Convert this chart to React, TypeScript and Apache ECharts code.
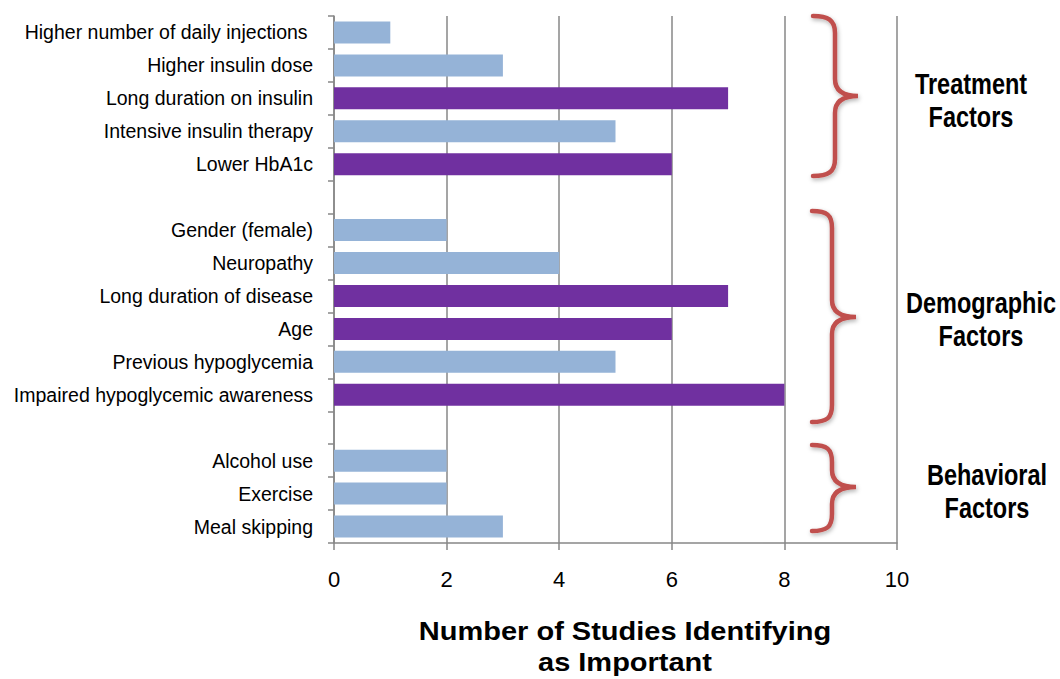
import React, { useEffect, useRef } from "react";
import * as echarts from "echarts";

const categories = [
  "Higher number of daily injections ",
  "Higher insulin dose",
  "Long duration on insulin",
  "Intensive insulin therapy",
  "Lower HbA1c",
  " ",
  "Gender (female)",
  "Neuropathy",
  "Long duration of disease",
  "Age",
  "Previous hypoglycemia",
  "Impaired hypoglycemic awareness",
  "  ",
  "Alcohol use",
  "Exercise",
  "Meal skipping",
];
const studyCounts: (number | null)[] = [1, 3, 7, 5, 6, null, 2, 4, 7, 6, 5, 8, null, 2, 2, 3];
const isKeyFactor = [false, false, true, false, true, false, false, false, true, true, false, true, false, false, false, false];
const groupLabels = ["Treatment\nFactors", "Demographic\nFactors", "Behavioral\nFactors"];
const axisTitle = "Number of Studies Identifying\nas Important";

const LIGHT = "#95B3D7";
const PURPLE = "#7030A0";
const GRID_GRAY = "#878787";
const BRACE_RED = "#C0504D";
const FONT = "'Liberation Sans', Arial, sans-serif";

function bracePath(xl: number, xv: number, xt: number, y0: number, ym: number, y1: number) {
  const r = 17;
  return (
    `M${xl} ${y0} C${xl + 15} ${y0} ${xv} ${y0 + 4} ${xv} ${y0 + r} ` +
    `L${xv} ${ym - r} C${xv} ${ym - 5} ${xv + 9} ${ym} ${xt} ${ym} ` +
    `C${xv + 9} ${ym} ${xv} ${ym + 5} ${xv} ${ym + r} ` +
    `L${xv} ${y1 - r} C${xv} ${y1 - 4} ${xl + 15} ${y1} ${xl} ${y1}`
  );
}

const braceDefs = [
  { name: "brace0", d: bracePath(813, 835, 858, 16, 96, 176) },
  { name: "brace1", d: bracePath(812, 832, 856, 211, 317, 422) },
  { name: "brace2", d: bracePath(812, 832, 856, 445, 487, 531) },
];
braceDefs.forEach((b) => {
  echarts.graphic.registerShape(b.name, echarts.graphic.extendPath(b.d, {}) as any);
});

const labelPos = [
  { x: 971, y: 101 },
  { x: 981, y: 320 },
  { x: 987, y: 492 },
];

export default function App() {
  const ref = useRef<HTMLDivElement>(null);
  useEffect(() => {
    if (!ref.current) return;
    const chart = echarts.init(ref.current, null, { renderer: "svg" });
    const data = studyCounts.map((v, i) => ({
      value: v,
      itemStyle: { color: isKeyFactor[i] ? PURPLE : LIGHT },
    }));
    const graphics: any[] = [];
    braceDefs.forEach((b) => {
      graphics.push({
        type: b.name,
        x: 0,
        y: 0,
        z: 10,
        style: {
          fill: "none",
          stroke: BRACE_RED,
          lineWidth: 4.5,
          lineCap: "round",
          shadowBlur: 4,
          shadowColor: "rgba(0,0,0,0.3)",
          shadowOffsetX: 1,
          shadowOffsetY: 2,
        },
      });
    });
    groupLabels.forEach((t, i) => {
      graphics.push({
        type: "text",
        x: labelPos[i].x,
        y: labelPos[i].y,
        scaleX: 0.81,
        z: 10,
        style: {
          text: t,
          align: "center",
          verticalAlign: "middle",
          fontFamily: FONT,
          fontWeight: "bold",
          fontSize: 29,
          lineHeight: 33,
          fill: "#000",
        },
      });
    });
    graphics.push({
      type: "text",
      x: 625,
      y: 647,
      scaleX: 1.16,
      z: 10,
      style: {
        text: axisTitle,
        align: "center",
        verticalAlign: "middle",
        fontFamily: FONT,
        fontWeight: "bold",
        fontSize: 25,
        lineHeight: 31,
        fill: "#000",
      },
    });

    chart.setOption({
      animation: false,
      backgroundColor: "#fff",
      grid: { left: 334, right: 163, top: 16, bottom: 136, containLabel: false },
      xAxis: {
        type: "value",
        min: 0,
        max: 10,
        interval: 2,
        axisLine: { show: true, lineStyle: { color: GRID_GRAY, width: 1.5 } },
        axisTick: { show: true, length: 7, lineStyle: { color: GRID_GRAY, width: 1.5 } },
        splitLine: { show: true, lineStyle: { color: GRID_GRAY, width: 1.5 } },
        axisLabel: { color: "#000", fontSize: 22, fontFamily: FONT, margin: 25 },
      },
      yAxis: {
        type: "category",
        inverse: true,
        data: categories,
        axisLine: { show: true, lineStyle: { color: GRID_GRAY, width: 1.5 } },
        axisTick: { show: true, length: 6, lineStyle: { color: GRID_GRAY, width: 1.5 } },
        splitLine: { show: false },
        axisLabel: { color: "#000", fontSize: 19.5, fontFamily: FONT, margin: 21, interval: 0 },
      },
      series: [
        {
          type: "bar",
          data,
          barWidth: 22,
          silent: true,
        },
      ],
      graphic: graphics,
    });
    return () => chart.dispose();
  }, []);
  return <div ref={ref} style={{ position: "absolute", left: 0, top: 0, width: 1060, height: 679 }} />;
}
